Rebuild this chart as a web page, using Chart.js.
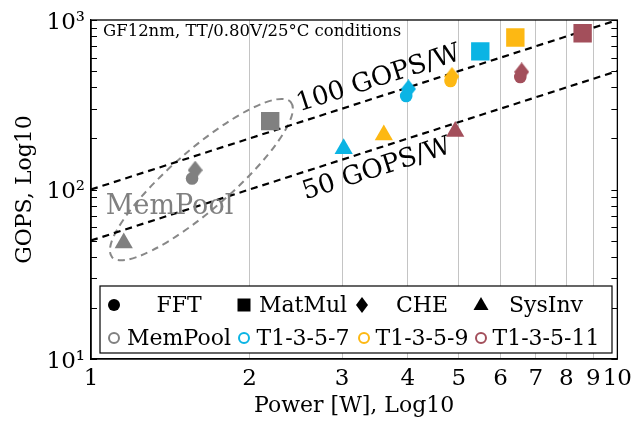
<!DOCTYPE html>
<html lang="en">
<head>
<meta charset="UTF-8">
<title>GOPS vs Power</title>
<script src="https://cdn.jsdelivr.net/npm/chart.js"></script>
<style>
  html, body { margin: 0; padding: 0; background: #fff; }
</style>
</head>
<body>
<canvas id="chart" width="638" height="429"></canvas>
<script>
// configurations, one colour each
const configs = ['MemPool', 'T1-3-5-7', 'T1-3-5-9', 'T1-3-5-11'];
const configColors = ['#808080', '#0bb4e4', '#fdb813', '#a34f5b'];

// kernels: power [W] and GOPS, one value per config
const kernels = ['FFT', 'MatMul', 'CHE', 'SysInv'];
const fftPower = [1.556, 3.97, 4.82, 6.54];
const fftGops = [116, 356, 437, 461];
const matmulPower = [2.19, 5.49, 6.40, 8.59];
const matmulGops = [253, 653, 788, 835];
const chePower = [1.577, 4.01, 4.85, 6.58];
const cheGops = [130, 392, 464, 494];
const sysinvPower = [1.154, 3.02, 3.60, 4.92];
const sysinvGops = [48.3, 174, 210, 220];

// iso-efficiency lines (GOPS/W)
const efficiencies = [100, 50];
const effLabels = ['100 GOPS/W', '50 GOPS/W'];
const powerRange = [1, 10];

const xTickValues = [1, 2, 3, 4, 5, 6, 7, 8, 9, 10];
const yTickValues = [10, 20, 30, 40, 50, 60, 70, 80, 90, 100, 200, 300, 400, 500, 600, 700, 800, 900, 1000];
const yTickLabels = { 10: '10¹', 100: '10²', 1000: '10³' };

const SERIF = "'DejaVu Serif', serif";

function pts(xs, ys) {
    return xs.map((x, i) => ({ x: x, y: ys[i] }));
}

// pgfplots-like diamond (taller than wide)
function diamondCanvas(color, w, h) {
    const c = document.createElement('canvas');
    c.width = w; c.height = h;
    const g = c.getContext('2d');
    g.fillStyle = color;
    g.beginPath();
    g.moveTo(w / 2, 0);
    g.lineTo(w, h / 2);
    g.lineTo(w / 2, h);
    g.lineTo(0, h / 2);
    g.closePath();
    g.fill();
    return c;
}

const markerDatasets = [
    { label: 'FFT', data: pts(fftPower, fftGops), pointStyle: 'circle', pointRadius: 6.3 },
    { label: 'MatMul', data: pts(matmulPower, matmulGops), pointStyle: 'rect', pointRadius: 13 },
    { label: 'CHE', data: pts(chePower, cheGops), pointStyle: configColors.map(c => diamondCanvas(c, 15, 19)), pointRadius: 9 },
    { label: 'SysInv', data: pts(sysinvPower, sysinvGops), pointStyle: 'triangle', pointRadius: 10.5 }
].map(d => Object.assign(d, {
    backgroundColor: configColors,
    borderColor: configColors,
    borderWidth: 0,
    showLine: false,
    order: 1
}));

const lineDatasets = efficiencies.map(e => ({
    label: e + ' GOPS/W',
    data: powerRange.map(p => ({ x: p, y: p * e })),
    showLine: true,
    borderColor: '#000',
    borderWidth: 2.2,
    borderDash: [7, 5],
    pointRadius: 0,
    order: 10
}));

// frame, inner ticks, notes, MemPool outline
const decorations = {
    id: 'decorations',
    beforeDatasetsDraw(chart) {
        const { ctx, scales: { x, y } } = chart;
        // MemPool outline: ellipse around its SysInv and MatMul points
        const p1 = { x: x.getPixelForValue(sysinvPower[0]), y: y.getPixelForValue(sysinvGops[0]) };
        const p2 = { x: x.getPixelForValue(matmulPower[0]), y: y.getPixelForValue(matmulGops[0]) };
        const ang = Math.atan2(p2.y - p1.y, p2.x - p1.x) - 0.02;
        const half = Math.hypot(p2.x - p1.x, p2.y - p1.y) / 2;
        const du = 5, dv = 1;
        const cx = (p1.x + p2.x) / 2 + du * Math.cos(ang) - dv * Math.sin(ang);
        const cy = (p1.y + p2.y) / 2 + du * Math.sin(ang) + dv * Math.cos(ang);
        ctx.save();
        ctx.strokeStyle = '#888';
        ctx.lineWidth = 2;
        ctx.setLineDash([7, 5]);
        ctx.beginPath();
        ctx.ellipse(cx, cy, half + 23, 30, ang, 0, Math.PI * 2);
        ctx.stroke();
        ctx.restore();
    },
    afterDatasetsDraw(chart) {
        const { ctx, chartArea: a, scales: { x, y } } = chart;
        ctx.save();
        // inner y ticks on both sides
        ctx.strokeStyle = '#000';
        ctx.lineWidth = 1;
        yTickValues.forEach(v => {
            const py = Math.round(y.getPixelForValue(v)) + 0.5;
            ctx.beginPath();
            ctx.moveTo(a.left, py); ctx.lineTo(a.left + 6, py);
            ctx.moveTo(a.right, py); ctx.lineTo(a.right - 6, py);
            ctx.stroke();
        });
        ctx.lineWidth = 1.3;
        ctx.strokeRect(a.left, a.top, a.right - a.left, a.bottom - a.top);

        // efficiency labels along the dashed lines
        const lx = [3.6, 3.4];
        const off = [-17, 20];
        ctx.fillStyle = '#000';
        ctx.font = '26px ' + SERIF;
        ctx.textAlign = 'center';
        ctx.textBaseline = 'middle';
        efficiencies.forEach((e, i) => {
            const x0 = x.getPixelForValue(powerRange[0]), y0 = y.getPixelForValue(powerRange[0] * e);
            const x1 = x.getPixelForValue(powerRange[1]), y1 = y.getPixelForValue(powerRange[1] * e);
            const ang = Math.atan2(y1 - y0, x1 - x0);
            const px = x.getPixelForValue(lx[i]), py = y.getPixelForValue(lx[i] * e);
            ctx.save();
            ctx.translate(px - Math.sin(ang) * off[i], py + Math.cos(ang) * off[i]);
            ctx.rotate(ang);
            ctx.fillText(effLabels[i], 0, 0);
            ctx.restore();
        });

        // MemPool label
        ctx.fillStyle = '#808080';
        ctx.font = '27px ' + SERIF;
        ctx.fillText('MemPool', x.getPixelForValue(1.41), y.getPixelForValue(79));

        // conditions note
        ctx.fillStyle = '#000';
        ctx.font = '16.5px ' + SERIF;
        ctx.textAlign = 'left';
        ctx.fillText('GF12nm, TT/0.80V/25°C conditions', a.left + 12, a.top + 12);
        ctx.restore();
    }
};

// legend box: kernels (marker shape) and configs (colour)
const legendBox = {
    id: 'legendBox',
    afterDraw(chart) {
        const { ctx, chartArea: a } = chart;
        const bx = a.left + 9, by = 286, bw = 512, bh = 67;
        ctx.save();
        ctx.fillStyle = '#fff';
        ctx.fillRect(bx, by, bw, bh);
        ctx.strokeStyle = '#000';
        ctx.lineWidth = 1.2;
        ctx.strokeRect(bx, by, bw, bh);

        const row1 = by + 19, row2 = by + 52;
        const markX1 = [114, 244, 362, 481];
        const markX2 = [114, 244, 364, 481];
        const textC = [179, 303, 422, 546];
        ctx.font = '22px ' + SERIF;
        ctx.textAlign = 'center';
        ctx.textBaseline = 'middle';
        ctx.fillStyle = '#000';
        kernels.forEach((k, i) => {
            const mx = markX1[i];
            ctx.beginPath();
            if (i === 0) ctx.arc(mx, row1, 6, 0, Math.PI * 2);
            if (i === 1) ctx.rect(mx - 6.5, row1 - 6.5, 13, 13);
            if (i === 2) { ctx.moveTo(mx, row1 - 8); ctx.lineTo(mx + 6, row1); ctx.lineTo(mx, row1 + 8); ctx.lineTo(mx - 6, row1); ctx.closePath(); }
            if (i === 3) { ctx.moveTo(mx, row1 - 8); ctx.lineTo(mx + 7.5, row1 + 5); ctx.lineTo(mx - 7.5, row1 + 5); ctx.closePath(); }
            ctx.fill();
            ctx.fillText(k, textC[i], row1 + 1);
        });
        configs.forEach((c, i) => {
            ctx.beginPath();
            ctx.strokeStyle = configColors[i];
            ctx.lineWidth = 2;
            ctx.arc(markX2[i], row2, 5, 0, Math.PI * 2);
            ctx.stroke();
            ctx.fillStyle = '#000';
            ctx.fillText(c, textC[i], row2 + 1);
        });
        ctx.restore();
    }
};

new Chart(document.getElementById('chart'), {
    type: 'scatter',
    data: { datasets: markerDatasets.concat(lineDatasets) },
    options: {
        responsive: false,
        animation: false,
        layout: { padding: { top: 20, right: 16, left: 0, bottom: 0 } },
        plugins: { legend: { display: false }, tooltip: { enabled: false } },
        scales: {
            x: {
                type: 'logarithmic',
                min: 1, max: 10,
                afterBuildTicks: s => { s.ticks = xTickValues.map(v => ({ value: v })); },
                afterFit: s => { s.height = 70; },
                grid: { color: '#c4c4c4', lineWidth: 1, drawTicks: false },
                border: { color: '#000', width: 1.3 },
                ticks: {
                    autoSkip: false, maxRotation: 0, padding: 6,
                    color: '#000', font: { family: SERIF, size: 23 },
                    callback: v => String(v)
                },
                title: {
                    display: true, text: 'Power [W], Log10', color: '#000',
                    font: { family: SERIF, size: 22 }, padding: { top: 0, bottom: 10 }
                }
            },
            y: {
                type: 'logarithmic',
                min: 10, max: 1000,
                afterBuildTicks: s => { s.ticks = Object.keys(yTickLabels).map(v => ({ value: Number(v) })); },
                afterFit: s => { s.width = 91; },
                grid: { display: false, drawTicks: false },
                border: { color: '#000', width: 1.3 },
                ticks: {
                    autoSkip: false, padding: 6, labelOffset: 3,
                    color: '#000', font: { family: SERIF, size: 23 },
                    callback: v => yTickLabels[Math.round(v)] || ''
                },
                title: {
                    display: true, text: 'GOPS, Log10', color: '#000',
                    font: { family: SERIF, size: 22 }, padding: { top: 12, bottom: 0 }
                }
            }
        }
    },
    plugins: [decorations, legendBox]
});
</script>
</body>
</html>
